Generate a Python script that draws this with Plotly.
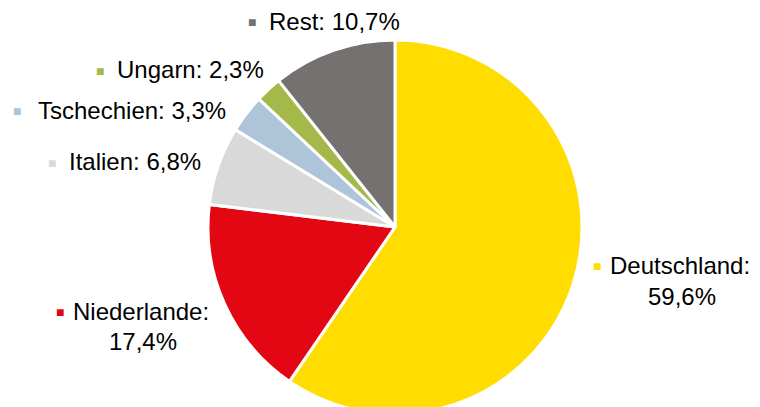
import plotly.graph_objects as go

labels = ["Deutschland", "Niederlande", "Italien", "Tschechien", "Ungarn", "Rest"]
values = [59.6, 17.4, 6.8, 3.3, 2.3, 10.7]
value_text = ["59,6%", "17,4%", "6,8%", "3,3%", "2,3%", "10,7%"]
colors = ["#FFDD00", "#E30613", "#D9D9D9", "#ADC4D9", "#A5B84A", "#767171"]

# figure slightly taller than the 407px view so the pie's bottom is cropped like the reference
W, H = 760, 414
FONT = "Liberation Sans, Arial, sans-serif"

fig = go.Figure(go.Pie(
    labels=labels, values=values, sort=False, direction="clockwise", rotation=0,
    marker=dict(colors=colors, line=dict(color="white", width=3)),
    textinfo="none", hoverinfo="label+percent", showlegend=False,
    domain=dict(x=[208/W, 582/W], y=[0, 374/H]),
))

# label layout in pixels: marker x, text x, line-1 y, line-2 centre x (None = one line), line-2 y
label_pos = {
    "Deutschland": (591, 608, 265, 682, 296),
    "Niederlande": (54, 71, 311, 143, 341),
    "Italien": (46, 67, 162, None, None),
    "Tschechien": (11, 36, 110, None, None),
    "Ungarn": (94, 115, 70, None, None),
    "Rest": (246, 267, 21, None, None),
}

def px2paper(x, y):
    return x / W, 1 - y / H

for lab, vt, col in zip(labels, value_text, colors):
    mx, tx, ty, l2x, l2y = label_pos[lab]
    ax, ay = px2paper(mx, ty + 1)
    fig.add_annotation(x=ax, y=ay, xref="paper", yref="paper", xanchor="left", yanchor="middle",
                       showarrow=False, text="■", font=dict(family=FONT, size=14, color=col))
    line1 = f"{lab}:" if l2x is not None else f"{lab}: {vt}"
    ax, ay = px2paper(tx, ty)
    fig.add_annotation(x=ax, y=ay, xref="paper", yref="paper", xanchor="left", yanchor="middle",
                       showarrow=False, text=line1, font=dict(family=FONT, size=24, color="#000000"))
    if l2x is not None:
        ax, ay = px2paper(l2x, l2y)
        fig.add_annotation(x=ax, y=ay, xref="paper", yref="paper", xanchor="center", yanchor="middle",
                           showarrow=False, text=vt, font=dict(family=FONT, size=24, color="#000000"))

fig.update_layout(
    width=W, height=H, margin=dict(l=0, r=0, t=0, b=0),
    paper_bgcolor="white", plot_bgcolor="white",
)

fig.write_html("out.html", config={"displayModeBar": False})

with open("out.html", encoding="utf-8") as f:
    html = f.read()
html = html.replace("<body>", "<body style=\"margin:0;overflow:hidden\">", 1)
with open("out.html", "w", encoding="utf-8") as f:
    f.write(html)
